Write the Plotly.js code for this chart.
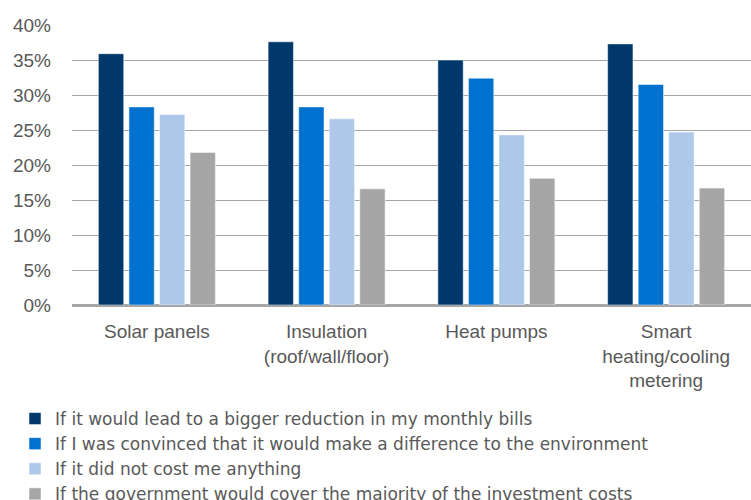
<!DOCTYPE html>
<html>
<head>
<meta charset="utf-8">
<script src="https://cdn.plot.ly/plotly-3.0.1.min.js"></script>
<style>html,body{margin:0;padding:0;background:#fff;}#chart{width:751px;height:500px;}</style>
</head>
<body>
<div id="chart"></div>
<script>
const categories = ["Solar panels", "Insulation<br>(roof/wall/floor)", "Heat pumps", "Smart<br>heating/cooling<br>metering"];
const seriesNames = [
  "If it would lead to a bigger reduction in my monthly bills",
  "If I was convinced that it would make a difference to the environment",
  "If it did not cost me anything",
  "If the government would cover the majority of the investment costs"
];
const billsReduction = [35.9, 37.6, 35.0, 37.3];
const environment = [28.3, 28.3, 32.4, 31.5];
const costNothing = [27.2, 26.6, 24.3, 24.7];
const government = [21.8, 16.6, 18.1, 16.7];
const yTickVals = [0, 5, 10, 15, 20, 25, 30, 35, 40];
const yTickText = ["0%", "5%", "10%", "15%", "20%", "25%", "30%", "35%", "40%"];
const colors = ["#00386B", "#0071CE", "#ADC8E8", "#A6A6A6"];

const values = [billsReduction, environment, costNothing, government];
const traces = values.map((v, i) => ({
  type: "bar",
  x: categories,
  y: v,
  name: seriesNames[i],
  marker: {color: colors[i], line: {color: "rgba(255,255,255,0.5)", width: 1}},
  hoverinfo: "none"
}));

const layout = {
  width: 751, height: 500,
  margin: {l: 72, r: 0, t: 25, b: 195, autoexpand: false},
  paper_bgcolor: "#fff", plot_bgcolor: "#fff",
  font: {family: "Liberation Sans, Arial, sans-serif", color: "#595959", size: 19},
  barmode: "group",
  bargap: 0.28,
  bargroupgap: 0.17,
  xaxis: {
    type: "category",
    showgrid: false,
    showline: true, linecolor: "#A6A6A6", linewidth: 2,
    ticks: "",
    tickangle: 0,
    tickfont: {size: 19, color: "#595959"},
    ticklabelstandoff: 8,
    automargin: false
  },
  yaxis: {
    range: [0, 40],
    tickmode: "array",
    tickvals: yTickVals,
    ticktext: yTickText,
    showgrid: true, gridcolor: "#A6A6A6", gridwidth: 1,
    zeroline: true, zerolinecolor: "#A6A6A6", zerolinewidth: 2,
    showline: false,
    ticks: "",
    tickfont: {size: 19, color: "#595959"},
    ticklabelstandoff: 20,
    automargin: false
  },
  showlegend: true,
  legend: {
    orientation: "v",
    xref: "container", yref: "container",
    x: 0.02, y: 1 - 401/500,
    xanchor: "left", yanchor: "top",
    font: {family: "DejaVu Sans, sans-serif", size: 17, color: "#595959"},
    bgcolor: "rgba(0,0,0,0)",
    tracegroupgap: 0
  }
};

Plotly.newPlot("chart", traces, layout, {staticPlot: true, displayModeBar: false});
</script>
</body>
</html>
